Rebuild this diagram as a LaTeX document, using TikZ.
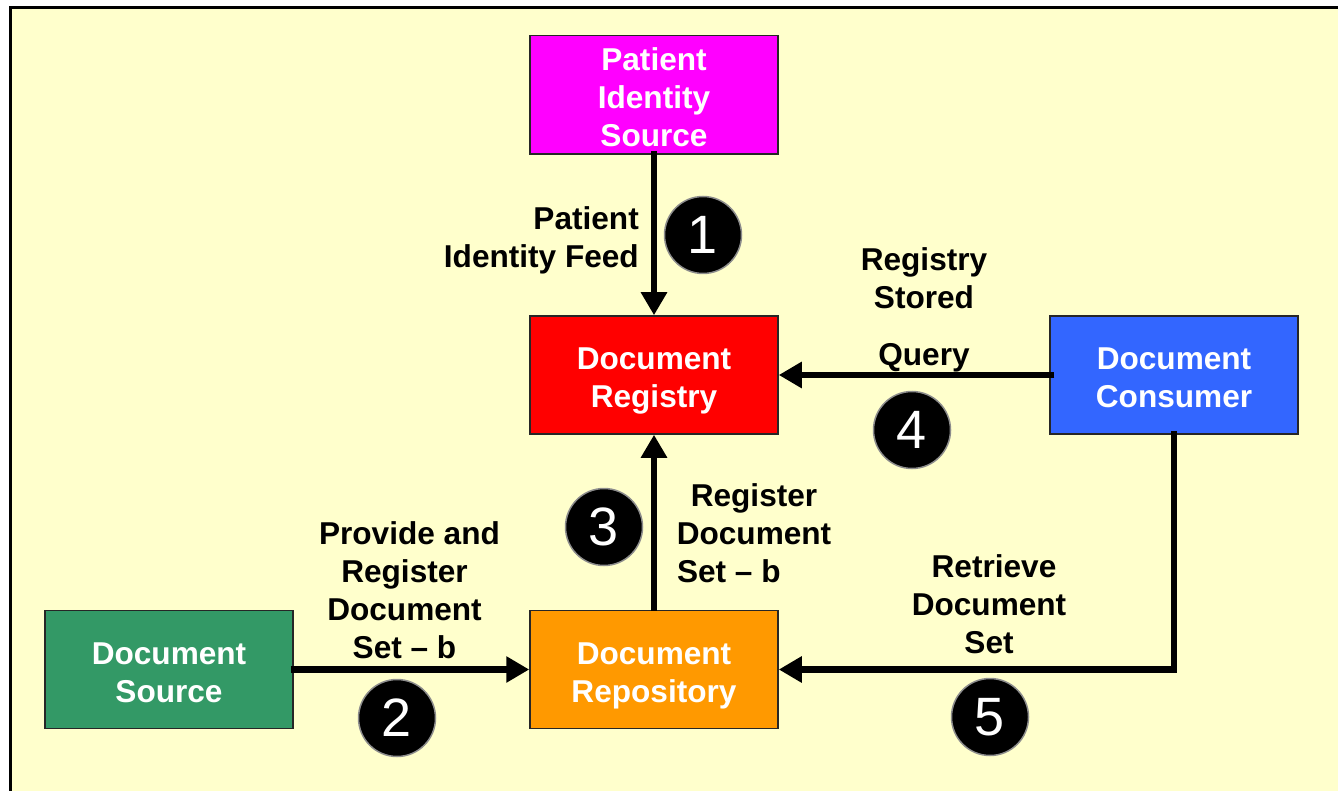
\documentclass[tikz,border=0pt]{standalone}
\usepackage{fontspec}
\setmainfont{Liberation Sans}
\usetikzlibrary{arrows.meta}

\definecolor{paper}{HTML}{FFFFCC}
\definecolor{pisrc}{HTML}{FF00FF}
\definecolor{docreg}{HTML}{FF0000}
\definecolor{doccons}{HTML}{3366FF}
\definecolor{docsrc}{HTML}{339966}
\definecolor{docrepo}{HTML}{FF9900}
\definecolor{ringgray}{HTML}{8C8C8C}

% fixed line struts so that the text sits the same way in every box
\newcommand\firstpad{\rule{0pt}{35pt}}
\newcommand\lastpad{\rule[-7.5pt]{0pt}{7.5pt}}

\tikzset{
  actor/.style={draw=black!85, line width=1.5pt, minimum width=248pt, minimum height=118pt,
    inner sep=0pt, text=white, align=center,
    font=\fontsize{31.6}{38}\selectfont\bfseries},
  lbl/.style={inner sep=0pt, text=black, font=\fontsize{31.6}{38}\selectfont\bfseries},
  flow/.style={line width=6.5pt, -{Triangle[length=23pt,width=25pt]}},
  stepno/.style={circle, fill=black, draw=ringgray, line width=1.5pt, minimum size=77pt,
    inner sep=0pt, text=white, font=\fontsize{54}{54}\selectfont}
}

\begin{document}
\begin{tikzpicture}[x=1pt,y=-1pt]
  \useasboundingbox (0,0) rectangle (1338,791);
  % page background with its frame on the left and top
  \fill[white] (0,0) rectangle (1338,791);
  \fill[paper] (10,7) rectangle (1338,791);
  \draw[line width=3pt, line cap=rect] (10.5,791) -- (10.5,7.5) -- (1338,7.5);

  % actors
  \node[actor, fill=pisrc]   (pis)  at (654,95)    {\firstpad Patient\\Identity\\Source\lastpad};
  \node[actor, fill=docreg]  (reg)  at (654,375)   {\firstpad Document\\Registry\lastpad};
  \node[actor, fill=doccons] (cons) at (1174,375)  {\firstpad Document\\Consumer\lastpad};
  \node[actor, fill=docsrc]  (src)  at (169,669.5) {\firstpad Document\\Source\lastpad};
  \node[actor, fill=docrepo] (repo) at (654,669.5) {\firstpad Document\\Repository\lastpad};

  % transactions
  \draw[flow, shorten <=-4pt] (pis.south) -- (reg.north);
  \draw[flow, shorten <=-5pt] (cons.west) -- (reg.east);
  \draw[flow, shorten <=-1pt] (repo.north) -- (reg.south);
  \draw[flow, shorten <=-3pt] (src.east) -- (repo.west);
  \draw[flow, shorten <=-4pt] (cons.south) |- (repo.east);

  % transaction names
  \node[lbl, anchor=east, align=right] (tpif) at (639,240) {Patient\\Identity Feed};
  \node[lbl, align=center] (trsq) at (924,278) {Registry\\Stored};
  \node[lbl] (trsqb) at (924,358) {Query};
  \node[lbl, align=center] (trds) at (754,533) {Register\\Document\\\makebox[154pt][l]{Set – b}};
  \node[lbl, align=center] (tprds) at (404.5,590.5) {\hspace*{10pt}Provide and\\Register\\Document\\Set – b};
  \node[lbl, align=center] (tret) at (989,604.5) {\hspace*{10pt}Retrieve\\Document\\Set};

  % step numbers
  \node[stepno] (n1) at (703,235) {1};
  \node[stepno] (n2) at (397,718) {2};
  \node[stepno] (n3) at (604,527) {3};
  \node[stepno] (n4) at (912,430) {4};
  \node[stepno] (n5) at (990,717) {5};
\end{tikzpicture}
\end{document}
